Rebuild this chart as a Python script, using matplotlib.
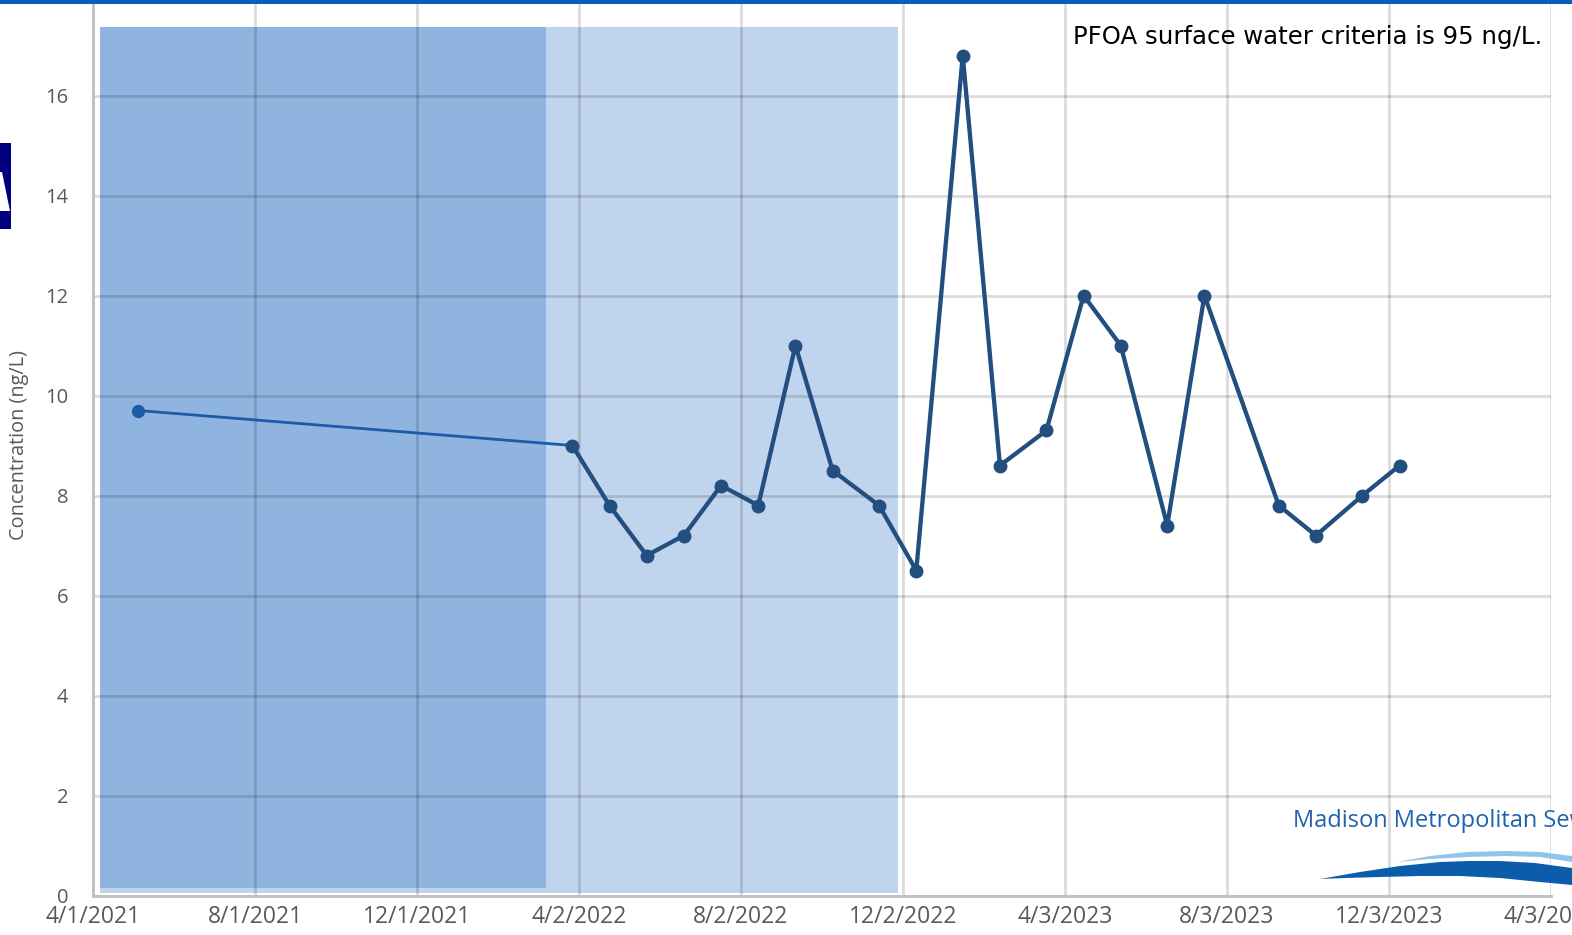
import matplotlib
matplotlib.use("Agg")
import matplotlib.pyplot as plt
import matplotlib.dates as mdates
from matplotlib.patches import Rectangle, Polygon
from datetime import datetime

# ---------------- data ----------------
sample_dates = ["2021-05-05", "2022-03-28", "2022-04-25", "2022-05-23", "2022-06-20",
                "2022-07-18", "2022-08-15", "2022-09-12", "2022-10-10", "2022-11-14",
                "2022-12-12", "2023-01-16", "2023-02-13", "2023-03-20", "2023-04-17",
                "2023-05-15", "2023-06-19", "2023-07-17", "2023-09-11", "2023-10-09",
                "2023-11-13", "2023-12-11"]
pfoa_values = [9.7, 9.0, 7.8, 6.8, 7.2, 8.2, 7.8, 11.0, 8.5, 7.8, 6.5,
               16.8, 8.6, 9.3, 12.0, 11.0, 7.4, 12.0, 7.8, 7.2, 8.0, 8.6]

tick_dates = ["2021-04-01", "2021-08-01", "2021-12-01", "2022-04-02", "2022-08-02",
              "2022-12-02", "2023-04-03", "2023-08-03", "2023-12-03", "2024-04-03"]
tick_labels = ["4/1/2021", "8/1/2021", "12/1/2021", "4/2/2022", "8/2/2022",
               "12/2/2022", "4/3/2023", "8/3/2023", "12/3/2023", "4/3/2024"]
y_ticks = [0, 2, 4, 6, 8, 10, 12, 14, 16]

light_period = ("2021-04-06", "2022-11-28", 0.05, 17.37)
dark_period = ("2021-04-06", "2022-03-08", 0.15, 17.37)

y_label = "Concentration (ng/L)"
note_text = "PFOA surface water criteria is 95 ng/L."
logo_text = "Madison Metropolitan Sewerage District"

# ---------------- style ----------------
plt.rcParams['font.family'] = ['Open Sans', 'DejaVu Sans']

W, H = 1572, 935
fig = plt.figure(figsize=(W / 100, H / 100), dpi=100)
fig.patch.set_facecolor("white")


def fx(px):
    return px / W


def fy(py):
    return (H - py) / H


ax = fig.add_axes([fx(93), fy(895.5), 1458 / W, 900 / H])

d = lambda s: mdates.date2num(datetime.strptime(s, "%Y-%m-%d"))
xs = [d(s) for s in sample_dates]

# shaded periods
for (s0, s1, b, t), col in [(light_period, "#c0d5ed"), (dark_period, "#8fb4e0")]:
    x0, x1 = d(s0), d(s1)
    ax.add_patch(Rectangle((x0, b), x1 - x0, t - b, facecolor=col,
                           edgecolor="none", zorder=1))

# data line
line_col = "#234e80"
first_col = "#1c5ca6"
ax.plot(xs[:2], pfoa_values[:2], color=first_col, lw=2.0, zorder=3,
        solid_capstyle="round")
ax.plot(xs[1:], pfoa_values[1:], color=line_col, lw=3.1, zorder=4,
        marker="o", markersize=9, markerfacecolor=line_col,
        markeredgecolor=line_col, solid_joinstyle="round")
ax.plot(xs[:1], pfoa_values[:1], linestyle="none", marker="o", markersize=8.5,
        color=first_col, zorder=4)

# axes
ax.set_xlim(d("2021-04-01"), d("2024-04-03"))
ax.set_ylim(0, 18)
ax.set_xticks([d(s) for s in tick_dates])
ax.set_xticklabels(tick_labels)
ax.set_yticks(y_ticks)
ax.set_yticklabels([str(v) for v in y_ticks])
ax.set_axisbelow(False)
ax.grid(True, color="black", alpha=0.14, lw=2.0)
ax.tick_params(axis="both", length=0, colors="#595959")
ax.tick_params(axis="x", labelsize=16.5, pad=7)
ax.tick_params(axis="y", labelsize=14.5, pad=18)
for sp in ["top", "right"]:
    ax.spines[sp].set_visible(False)
for sp in ["left", "bottom"]:
    ax.spines[sp].set_color("#bfbfbf")
    ax.spines[sp].set_linewidth(2.0)
    ax.spines[sp].set_zorder(2.6)

# y label
fig.text(fx(19), fy(445), y_label, rotation=90, ha="center", va="center",
         fontsize=14.3, color="#595959")

# annotation
fig.text(fx(1073), fy(44), note_text, ha="left", va="baseline",
         fontsize=17.6, color="black", family=["DejaVu Sans"])

# header bar
fig.add_artist(Rectangle((0, fy(4)), 1, 4 / H, transform=fig.transFigure,
                         facecolor="#0a5cbf", edgecolor="none", zorder=10))

# left navy fragment
fig.add_artist(Rectangle((0, fy(229)), fx(11), 86 / H, transform=fig.transFigure,
                         facecolor="#00007f", edgecolor="none", zorder=10))
fig.add_artist(Polygon([(fx(0), fy(172)), (fx(2), fy(172)), (fx(10), fy(211)),
                        (fx(0), fy(211))], closed=True, transform=fig.transFigure,
                       facecolor="white", edgecolor="none", zorder=11))

# logo
fig.text(fx(1293), fy(827), logo_text, ha="left", va="baseline",
         fontsize=17, color="#1f63b0", zorder=10)
dark_wave = [(1320, 879), (1360, 872), (1400, 866), (1440, 862), (1470, 861),
             (1500, 861), (1535, 863), (1572, 868), (1572, 885), (1540, 882),
             (1500, 878), (1460, 876), (1420, 876), (1380, 877), (1345, 878)]
light_wave = [(1397, 862), (1430, 856), (1467, 852), (1505, 851), (1540, 852),
              (1572, 856), (1572, 862), (1540, 857), (1505, 856), (1467, 857),
              (1430, 859)]
fig.add_artist(Polygon([(fx(a), fy(b)) for a, b in light_wave], closed=True,
                       transform=fig.transFigure, facecolor="#8ec5ea",
                       edgecolor="none", zorder=10))
fig.add_artist(Polygon([(fx(a), fy(b)) for a, b in dark_wave], closed=True,
                       transform=fig.transFigure, facecolor="#0b5cab",
                       edgecolor="none", zorder=10))

fig.savefig("out.png", dpi=100)
